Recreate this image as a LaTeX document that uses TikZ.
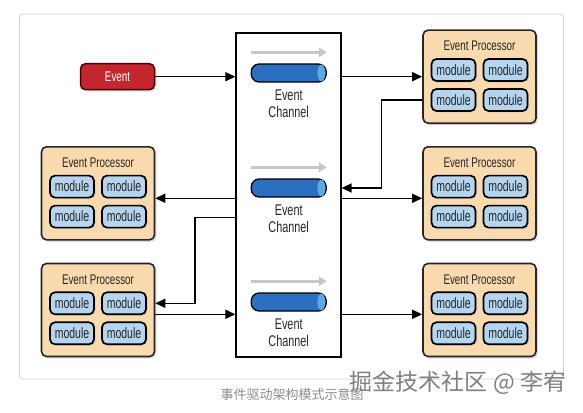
\documentclass[tikz,border=0pt]{standalone}
\usepackage{fontspec}
\newfontfamily\narrowfont[FakeStretch=0.7]{Liberation Sans}
\newfontfamily\cjkfont{Noto Sans CJK SC}
\usetikzlibrary{arrows.meta,positioning,shadows}
\definecolor{procfill}{HTML}{F9D9AE}
\definecolor{modfill}{HTML}{B5D5EE}
\definecolor{eventred}{HTML}{C4262E}
\definecolor{pipeblue}{HTML}{2B6FC0}
\definecolor{pipeend}{HTML}{5CA8E0}

\begin{document}
\begin{tikzpicture}[x=1pt,y=-1pt,
  every node/.style={align=center,text=black!85},
  frame/.style={draw=black!18,rounded corners=3pt,line width=0.8pt},
  channel/.style={draw,line width=1.2pt,fill=white,minimum width=105pt,minimum height=324pt},
  event/.style={draw=black!70!red,line width=1.5pt,rounded corners=5pt,fill=eventred,text=white,
    minimum width=74pt,minimum height=26pt,font=\narrowfont\fontsize{14}{16}\selectfont,
    drop shadow={shadow xshift=2pt,shadow yshift=-2pt,fill=black!25}},
  processor/.style={draw=black!85,line width=1.6pt,rounded corners=5pt,fill=procfill,
    minimum width=113pt,minimum height=93pt,
    drop shadow={shadow xshift=2pt,shadow yshift=-2pt,fill=black!25}},
  title/.style={font=\narrowfont\fontsize{14}{16}\selectfont},
  module/.style={draw,line width=1.7pt,rounded corners=5pt,fill=modfill,minimum width=44pt,
    minimum height=22pt,inner sep=0pt,font=\narrowfont\fontsize{15}{16}\selectfont,
    drop shadow={shadow xshift=1.5pt,shadow yshift=-1.5pt,fill=black!25}},
  pipe/.style={draw,line width=1.3pt,fill=pipeblue,rounded corners=8pt,
    minimum width=75pt,minimum height=18pt,inner sep=0pt},
  pipecap/.style={fill=pipeend},
  chlabel/.style={font=\narrowfont\fontsize{15.5}{17}\selectfont},
  flow/.style={line width=3pt,draw=black!22,-{Triangle[length=8pt,width=9pt]}},
  to/.style={-{Triangle[length=10pt,width=9pt]},line width=1.4pt}]

  \useasboundingbox (0,0) rectangle (583,412);
  \draw[frame] (19.5,14) rectangle (563.5,379);

  % The channel box with its three pipes
  \node[channel] (chan) at (288.5,195) {};
  \foreach \i/\y in {1/73,2/188,3/302} {
    \node[pipe] (pipe\i) at (288.7,\y) {};
    \fill[pipecap] ([xshift=-5.5pt]pipe\i.east) ellipse (4pt and 8.3pt);
    \draw[flow] ([yshift=20.7pt]pipe\i.west) -- ([yshift=20.7pt]pipe\i.east);
    \node[chlabel] (label\i) at ([yshift=-30.5pt]pipe\i.center) {Event\\Channel};
  }

  % The incoming event
  \node[event] (event) at (117.5,76.7) {Event};

  % The processors, each with four modules
  \foreach \n/\x/\y in {tr/479.5/76.7, mr/479.5/193.3, br/479.5/310, ml/98/193.3, bl/98/310} {
    \node[processor] (\n) at (\x,\y) {};
    \node[title] (\n-title) at ([yshift=30.7pt]\n.center) {Event Processor};
    \node[module] (\n-1) at ([shift={(-26pt,6.7pt)}]\n.center) {module};
    \node[module] (\n-2) at ([shift={(26pt,6.7pt)}]\n.center) {module};
    \node[module] (\n-3) at ([shift={(-26pt,-23.3pt)}]\n.center) {module};
    \node[module] (\n-4) at ([shift={(26pt,-23.3pt)}]\n.center) {module};
  }

  % Connections between the event, the channels and the processors
  \draw[to] (event.east) -- (event.east -| chan.west);
  \draw[to] (chan.east |- tr.west) -- (tr.west);
  \draw[to] (tr-3 -| tr.west) -- ++(-41,0) |- (pipe2 -| chan.east);
  \draw[to] (chan.east |- 0,198.3) -- (mr.west |- 0,198.3);
  \draw[to] (chan.west |- 0,198.3) -- (ml.east |- 0,198.3);
  \draw[to] (chan.west |- 0,217.3) -- (195,217.3) |- (bl-1 -| bl.east);
  \draw[to] (bl.east |- 0,314.3) -- (chan.west |- 0,314.3);
  \draw[to] (chan.east |- 0,314.3) -- (br.west |- 0,314.3);

  % Caption and watermark
  \node[text=black!45,font=\cjkfont\fontsize{13}{13}\selectfont] (caption) at (292,395) {事件驱动架构模式示意图};
  \node[text=black!50,font=\cjkfont\fontsize{23}{23}\selectfont] (mark) at (458,383) {掘金技术社区 @ 李宥};
\end{tikzpicture}
\end{document}
